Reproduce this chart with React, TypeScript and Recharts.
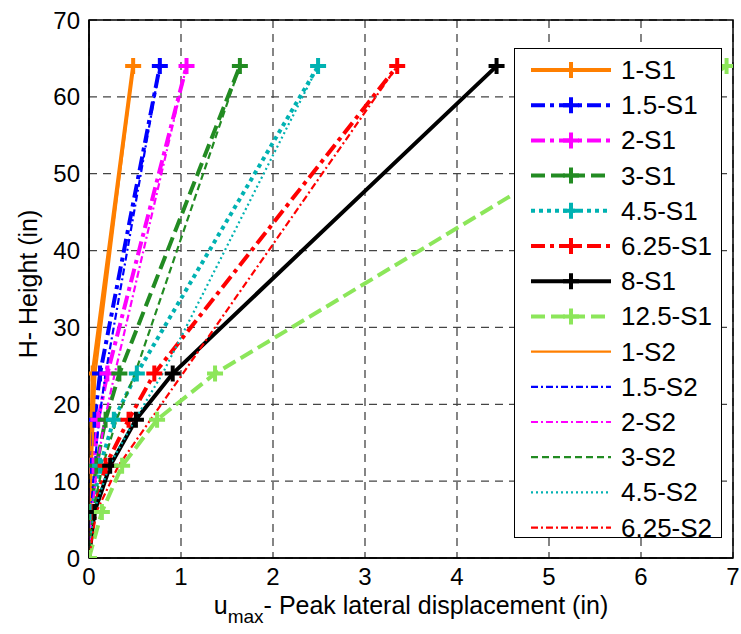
import React from 'react';
import {
  LineChart,
  Line,
  XAxis,
  YAxis,
  CartesianGrid,
  Legend,
  ReferenceArea,
  Label,
} from 'recharts';

// heights along the wall (in)
const heights = [0, 6, 12, 18, 24, 64];

// peak lateral displacement (in) at each height
const u1S1 = [0, 0.005, 0.015, 0.03, 0.04, 0.48];
const u15S1 = [0, 0.01, 0.03, 0.06, 0.12, 0.77];
const u2S1 = [0, 0.01, 0.05, 0.1, 0.2, 1.06];
const u3S1 = [0, 0.02, 0.08, 0.18, 0.33, 1.64];
const u45S1 = [0, 0.03, 0.12, 0.27, 0.52, 2.49];
const u625S1 = [0, 0.05, 0.18, 0.43, 0.71, 3.35];
const u8S1 = [0, 0.06, 0.23, 0.51, 0.91, 4.43];
const u125S1 = [0, 0.14, 0.36, 0.74, 1.37, 6.93];
const u1S2 = [0, 0.01, 0.03, 0.05, 0.07, 0.48];
const u15S2 = [0, 0.02, 0.06, 0.11, 0.18, 0.77];
const u2S2 = [0, 0.03, 0.09, 0.17, 0.28, 1.06];
const u3S2 = [0, 0.04, 0.15, 0.3, 0.5, 1.64];
const u45S2 = [0, 0.05, 0.22, 0.5, 0.8, 2.49];
const u625S2 = [0, 0.08, 0.32, 0.67, 1.02, 3.35];

const xTicks = [0, 1, 2, 3, 4, 5, 6, 7];
const yTicks = [0, 10, 20, 30, 40, 50, 60, 70];

const FONT = '"Liberation Sans", Arial, sans-serif';

type Series = {
  name: string;
  values: number[];
  color: string;
  dash?: string;
  width: number;
  marker: boolean;
};

const thickDashDot = '14 5 4 5';
const thickDash = '14 6';
const thickDot = '4 4';
const thinDashDot = '7 3 2 3';
const thinDash = '7 4';
const thinDot = '2 3';

const series: Series[] = [
  { name: '1-S1', values: u1S1, color: '#ff7f00', width: 4, marker: true },
  { name: '1.5-S1', values: u15S1, color: '#0000ff', dash: thickDashDot, width: 4, marker: true },
  { name: '2-S1', values: u2S1, color: '#ff00ff', dash: thickDashDot, width: 4, marker: true },
  { name: '3-S1', values: u3S1, color: '#228b22', dash: thickDash, width: 4, marker: true },
  { name: '4.5-S1', values: u45S1, color: '#00b2b2', dash: thickDot, width: 4, marker: true },
  { name: '6.25-S1', values: u625S1, color: '#ff0000', dash: thickDashDot, width: 4, marker: true },
  { name: '8-S1', values: u8S1, color: '#000000', width: 4, marker: true },
  { name: '12.5-S1', values: u125S1, color: '#8ce65a', dash: thickDash, width: 4, marker: true },
  { name: '1-S2', values: u1S2, color: '#ff7f00', width: 2.2, marker: false },
  { name: '1.5-S2', values: u15S2, color: '#0000ff', dash: thinDashDot, width: 2.2, marker: false },
  { name: '2-S2', values: u2S2, color: '#ff00ff', dash: thinDashDot, width: 2.2, marker: false },
  { name: '3-S2', values: u3S2, color: '#228b22', dash: thinDash, width: 2.2, marker: false },
  { name: '4.5-S2', values: u45S2, color: '#00b2b2', dash: thinDot, width: 2.2, marker: false },
  { name: '6.25-S2', values: u625S2, color: '#ff0000', dash: thinDashDot, width: 2.2, marker: false },
];

const toData = (values: number[]) => values.map((u, i) => ({ u, h: heights[i] }));

const plusPath = (cx: number, cy: number, r: number) =>
  `M${cx - r},${cy}H${cx + r}M${cx},${cy - r}V${cy + r}`;

const makePlus = (color: string) => (props: any) => {
  const { cx, cy, index } = props;
  if (cx == null || cy == null) return <g key={`p-${index}`} />;
  return (
    <path
      key={`p-${index}`}
      d={plusPath(cx, cy, 8)}
      stroke={color}
      strokeWidth={4}
      fill="none"
    />
  );
};

const LegendBox = () => (
  <div
    style={{
      width: 206,
      height: 488,
      border: '1px solid #000',
      background: '#fff',
      boxSizing: 'content-box',
    }}
  >
    <svg width={206} height={488} style={{ overflow: 'visible', display: 'block' }}>
      {series.map((s, i) => {
        const y = 21 + i * 35.2;
        return (
          <g key={s.name}>
            <line
              x1={16}
              x2={96}
              y1={y}
              y2={y}
              stroke={s.color}
              strokeWidth={s.width}
              strokeDasharray={s.dash}
            />
            {s.marker && (
              <path d={plusPath(56, y, 8)} stroke={s.color} strokeWidth={4} fill="none" />
            )}
            <text
              x={106}
              y={y + 9}
              fontSize={26}
              fontFamily={FONT}
              fill="#000"
            >
              {s.name}
            </text>
          </g>
        );
      })}
    </svg>
  </div>
);

const XTitle = () => (
  <text x={411} y={614} textAnchor="middle" fontSize={25} fontFamily={FONT} fill="#000">
    <tspan>u</tspan>
    <tspan dy={9} fontSize={19}>max</tspan>
    <tspan dy={-9}>- Peak lateral displacement (in)</tspan>
  </text>
);

const YTitle = () => (
  <text
    x={30}
    y={284}
    textAnchor="middle"
    fontSize={25}
    fontFamily={FONT}
    fill="#000"
    transform="rotate(-90, 30, 284)"
    dominantBaseline="middle"
  >
    H- Height (in)
  </text>
);

export default function App() {
  const tickStyle = { fontSize: 24, fontFamily: FONT, fill: '#000' };
  return (
    <div style={{ position: 'absolute', left: 0, top: 0, background: '#fff' }}>
      <LineChart width={741} height={634} margin={{ top: 20, right: 8, bottom: 0, left: 0 }}>
        <CartesianGrid stroke="#444" strokeDasharray="8 6" strokeWidth={1.3} />
        <XAxis
          type="number"
          dataKey="u"
          domain={[0, 7]}
          ticks={xTicks}
          allowDataOverflow
          height={76}
          tickLine={false}
          tickSize={0}
          tickMargin={10}
          tick={tickStyle}
          axisLine={{ stroke: '#000', strokeWidth: 1.5 }}
        >
          <Label content={() => <XTitle />} />
        </XAxis>
        <YAxis
          type="number"
          dataKey="h"
          domain={[0, 70]}
          ticks={yTicks}
          allowDataOverflow
          width={89}
          tickLine={false}
          tickSize={0}
          tickMargin={9}
          tick={tickStyle}
          axisLine={{ stroke: '#000', strokeWidth: 1.5 }}
        >
          <Label content={() => <YTitle />} />
        </YAxis>
        <ReferenceArea x1={0} x2={7} y1={0} y2={70} fill="none" stroke="#000" strokeWidth={1.5} />
        {series.map((s) => (
          <Line
            key={s.name}
            name={s.name}
            data={toData(s.values)}
            dataKey="h"
            type="linear"
            stroke={s.color}
            strokeWidth={s.width}
            strokeDasharray={s.dash}
            dot={s.marker ? makePlus(s.color) : false}
            activeDot={false}
            isAnimationActive={false}
          />
        ))}
        <Legend
          layout="vertical"
          align="center"
          verticalAlign="middle"
          content={() => <LegendBox />}
          wrapperStyle={{ position: 'absolute', left: 514, top: 48, width: 208, height: 490 }}
        />
      </LineChart>
    </div>
  );
}
